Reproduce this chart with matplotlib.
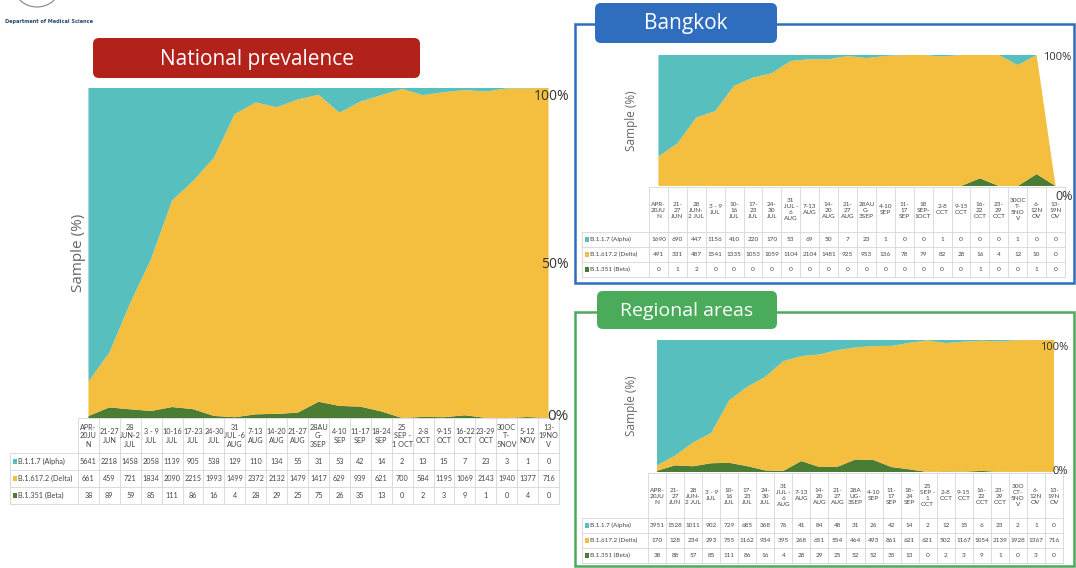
import matplotlib
matplotlib.use('Agg')
import matplotlib.pyplot as plt
import numpy as np
from matplotlib.patches import FancyBboxPatch, Rectangle, Ellipse

W, H = 1076, 568

TEAL = '#57c0be'
GOLD = '#f4be3e'
GREEN = '#4b7c34'
GRID = '#d6d6d6'
TXT = '#444444'

series_names = ['B.1.1.7 (Alpha)', 'B.1.617.2 (Delta)', 'B.1.351 (Beta)']

# ---- National ----
nat_weeks = ['APR-\n20JU\nN', '21-27\nJUN', '28\nJUN-2\nJUL', '3 - 9\nJUL', '10-16\nJUL',
             '17-23\nJUL', '24-30\nJUL', '31\nJUL -6\nAUG', '7-13\nAUG', '14-20\nAUG',
             '21-27\nAUG', '28AU\nG-\n3SEP', '4-10\nSEP', '11-17\nSEP', '18-24\nSEP',
             '25\nSEP -\n1 OCT', '2-8\nOCT', '9-15\nOCT', '16-22\nOCT', '23-29\nOCT',
             '30OC\nT-\n5NOV', '5-12\nNOV', '13-\n19NO\nV']
nat_alpha = [5641, 2218, 1458, 2058, 1139, 905, 538, 129, 110, 134, 55, 31, 53, 42, 14,
             2, 13, 15, 7, 23, 3, 1, 0]
nat_delta = [661, 459, 721, 1834, 2090, 2215, 1993, 1499, 2372, 2132, 1479, 1417, 629,
             939, 621, 700, 584, 1195, 1069, 2143, 1940, 1377, 716]
nat_beta = [38, 89, 59, 85, 111, 86, 16, 4, 28, 29, 25, 75, 26, 35, 13, 0, 2, 3, 9, 1,
            0, 4, 0]

# ---- Bangkok ----
bkk_weeks = ['APR-\n20JU\nN', '21-\n27\nJUN', '28\nJUN-\n2 JUL', '3 - 9\nJUL', '10-\n16\nJUL',
             '17-\n23\nJUL', '24-\n30\nJUL', '31\nJUL -\n6\nAUG', '7-13\nAUG', '14-\n20\nAUG',
             '21-\n27\nAUG', '28AU\nG-\n3SEP', '4-10\nSEP', '11-\n17\nSEP', '18\nSEP-\n1OCT',
             '2-8\nOCT', '9-15\nOCT', '16-\n22\nOCT', '23-\n29\nOCT', '30OC\nT-\n5NO\nV',
             '6-\n12N\nOV', '13-\n19N\nOV']
bkk_alpha = [1690, 690, 447, 1156, 410, 220, 170, 53, 69, 50, 7, 23, 1, 0, 0, 1, 0, 0, 0,
             1, 0, 0]
bkk_delta = [491, 331, 487, 1541, 1335, 1053, 1059, 1104, 2104, 1481, 925, 953, 136, 78,
             79, 82, 28, 16, 4, 12, 10, 0]
bkk_beta = [0, 1, 2, 0, 0, 0, 0, 0, 0, 0, 0, 0, 0, 0, 0, 0, 0, 1, 0, 0, 1, 0]

# ---- Regional ----
reg_weeks = ['APR-\n20JU\nN', '21-\n27\nJUN', '28\nJUN-\n2 JUL', '3 - 9\nJUL', '10-\n16\nJUL',
             '17-\n23\nJUL', '24-\n30\nJUL', '31\nJUL -\n6\nAUG', '7-13\nAUG', '14-\n20\nAUG',
             '21-\n27\nAUG', '28A\nUG-\n3SEP', '4-10\nSEP', '11-\n17\nSEP', '18-\n24\nSEP',
             '25\nSEP -\n1\nOCT', '2-8\nOCT', '9-15\nOCT', '16-\n22\nOCT', '23-\n29\nOCT',
             '30O\nCT-\n5NO\nV', '6-\n12N\nOV', '13-\n19N\nOV']
reg_alpha = [3951, 1528, 1011, 902, 729, 685, 368, 76, 41, 84, 48, 31, 26, 42, 14, 2, 12,
             15, 6, 23, 2, 1, 0]
reg_delta = [170, 128, 234, 293, 755, 1162, 934, 395, 268, 651, 554, 464, 493, 861, 621,
             621, 502, 1167, 1054, 2139, 1928, 1367, 716]
reg_beta = [38, 88, 57, 85, 111, 86, 16, 4, 28, 29, 25, 52, 52, 35, 13, 0, 2, 3, 9, 1, 0,
            3, 0]

fig = plt.figure(figsize=(W / 100, H / 100), dpi=100)
fig.patch.set_facecolor('white')

bg = fig.add_axes([0, 0, 1, 1], zorder=0)
bg.set_xlim(0, W)
bg.set_ylim(H, 0)
bg.axis('off')

fg = fig.add_axes([0, 0, 1, 1], zorder=10)
fg.set_xlim(0, W)
fg.set_ylim(H, 0)
fg.axis('off')
fg.patch.set_alpha(0)


def area_panel(x0, x1, y0, y1, alpha, delta, beta, ylab_x, ylab_size):
    ax = fig.add_axes([x0 / W, 1 - y1 / H, (x1 - x0) / W, (y1 - y0) / H], zorder=5)
    a = np.array(alpha, float)
    d = np.array(delta, float)
    b = np.array(beta, float)
    tot = a + d + b
    tot_safe = np.where(tot == 0, 1, tot)
    xs = np.arange(len(a))
    ax.stackplot(xs, b / tot_safe * 100, d / tot_safe * 100, a / tot_safe * 100,
                 colors=[GREEN, GOLD, TEAL], linewidth=0)
    ax.set_xlim(0, len(a) - 1)
    ax.set_ylim(0, 100)
    for s in ax.spines.values():
        s.set_visible(False)
    ax.set_xticks([])
    ax.set_yticks([])
    ax.patch.set_alpha(0)
    fg.text(ylab_x, (y0 + y1) / 2, 'Sample (%)', rotation=90, ha='center', va='center',
            fontsize=ylab_size, color='#666666', family='Open Sans')
    return ax


def draw_table(x_lab, x_d0, x_r, y_top, y_head, row_h, weeks, rows, fs):
    n = len(weeks)
    cw = (x_r - x_d0) / n
    y_bot = y_head + row_h * len(rows)
    kw = dict(color=GRID, lw=0.6, zorder=2)
    for k in range(n + 1):
        bg.plot([x_d0 + k * cw] * 2, [y_top, y_bot], **kw)
    bg.plot([x_lab, x_lab], [y_head, y_bot], **kw)
    bg.plot([x_d0, x_r], [y_top, y_top], **kw)
    for r in range(len(rows) + 1):
        yy = y_head + r * row_h
        bg.plot([x_lab, x_r], [yy, yy], **kw)
    for i, w in enumerate(weeks):
        bg.text(x_d0 + (i + 0.5) * cw, (y_top + y_head) / 2 + 0.5, w, ha='center',
                va='center', fontsize=fs, color=TXT, linespacing=1.25, family='Lato')
    sq_colors = [TEAL, GOLD, GREEN]
    for r, vals in enumerate(rows):
        yc = y_head + (r + 0.5) * row_h
        bg.add_patch(Rectangle((x_lab + 3, yc - 2.2), 4.4, 4.4, color=sq_colors[r], lw=0))
        bg.text(x_lab + 8.5, yc, series_names[r], ha='left', va='center', fontsize=fs,
                color=TXT, family='Lato')
        for i, v in enumerate(vals):
            bg.text(x_d0 + (i + 0.5) * cw, yc, str(v), ha='center', va='center',
                    fontsize=fs, color=TXT, family='Lato')


def title_box(x0, x1, y0, y1, text, color, fs):
    bg.add_patch(FancyBboxPatch((x0, y0), x1 - x0, y1 - y0,
                                boxstyle='round,pad=0,rounding_size=6',
                                facecolor=color, edgecolor='none', zorder=4))
    bg.text((x0 + x1) / 2, (y0 + y1) / 2 + 1, text, ha='center', va='center',
            fontsize=fs, color='white', family='Open Sans', zorder=5)


# ---- logo ----
bg.add_patch(Ellipse((37, -14), 46, 42, fill=False, edgecolor='#7a8a7a', lw=0.8))
bg.text(5, 21, 'Department of Medical Science', fontsize=3.6, color='#2a4a6a',
        va='center', fontweight='bold', family='DejaVu Sans')

# ---- frames ----
bg.add_patch(Rectangle((575, 24), 499, 259, fill=False, edgecolor='#2f6ebe', lw=1.8,
                       zorder=3))
bg.add_patch(Rectangle((575, 312), 499, 254, fill=False, edgecolor='#4aab5a', lw=1.8,
                       zorder=3))

# ---- National ----
title_box(93, 420, 38, 78, 'National prevalence', '#b2221b', 15)
n_cw = (559 - 78) / len(nat_weeks)
area_panel(78 + n_cw / 2, 559 - n_cw / 2, 88, 418, nat_alpha, nat_delta, nat_beta, 78, 11)
draw_table(10, 78, 559, 418, 453, 17, nat_weeks,
           [nat_alpha, nat_delta, nat_beta], 5.2)
fg.text(569, 97, '100%', ha='right', va='center', fontsize=10, color='#333333',
        family='Open Sans')
fg.text(569, 265, '50%', ha='right', va='center', fontsize=10, color='#333333',
        family='Open Sans')
fg.text(569, 417, '0%', ha='right', va='center', fontsize=11, color='#333333',
        family='Open Sans')

# ---- Bangkok ----
title_box(595, 777, 3, 43, 'Bangkok', '#2f6ebe', 15)
b_cw = (1065 - 649) / len(bkk_weeks)
area_panel(649 + b_cw / 2, 1065 - b_cw / 2, 55, 186, bkk_alpha, bkk_delta, bkk_beta,
           632, 8.5)
draw_table(582, 649, 1065, 187, 232, 15, bkk_weeks,
           [bkk_alpha, bkk_delta, bkk_beta], 4.6)
fg.text(1071, 58, '100%', ha='right', va='center', fontsize=8, color='#333333',
        family='Open Sans')
fg.text(1073, 197, '0%', ha='right', va='center', fontsize=9, color='#333333',
        family='Open Sans')

# ---- Regional ----
title_box(597, 777, 291, 329, 'Regional areas', '#4aab5a', 14)
r_cw = (1063 - 648) / len(reg_weeks)
area_panel(648 + r_cw / 2, 1063 - r_cw / 2, 340, 472, reg_alpha, reg_delta, reg_beta,
           632, 8.5)
draw_table(582, 648, 1063, 473, 518, 15, reg_weeks,
           [reg_alpha, reg_delta, reg_beta], 4.6)
fg.text(1068, 347, '100%', ha='right', va='center', fontsize=8, color='#333333',
        family='Open Sans')
fg.text(1068, 472, '0%', ha='right', va='center', fontsize=8, color='#333333',
        family='Open Sans')

fig.savefig('out.png', dpi=100, facecolor='white')
